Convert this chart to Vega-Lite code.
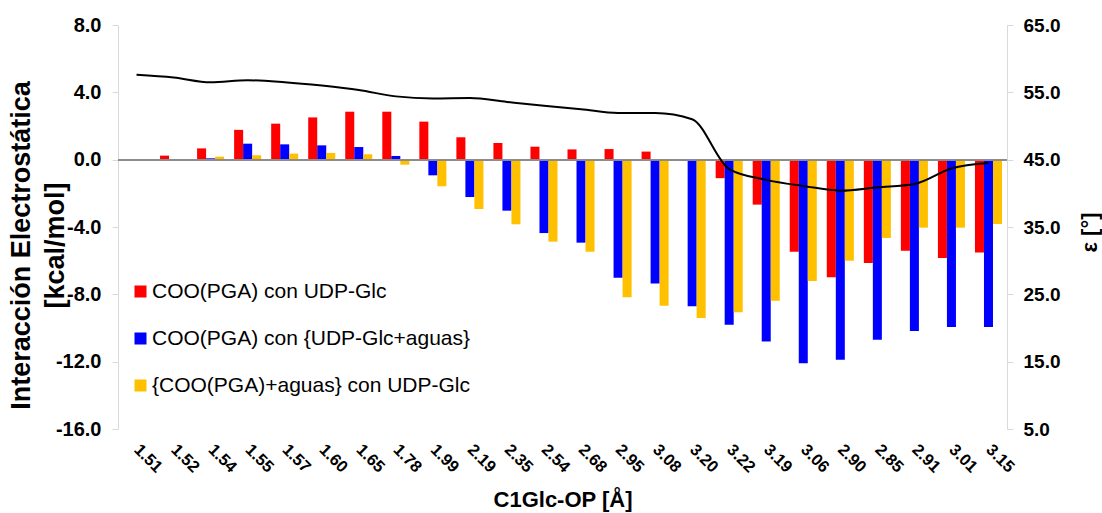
{
  "$schema": "https://vega.github.io/schema/vega-lite/v6.json",
  "width": 889,
  "height": 404,
  "autosize": {"type": "none"},
  "padding": {"left": 118, "top": 25, "right": 95, "bottom": 84},
  "background": "white",
  "config": {
    "view": {"stroke": null},
    "font": "Liberation Sans",
    "axis": {"labelFont": "Liberation Sans", "titleFont": "Liberation Sans", "labelColor": "#000", "titleColor": "#000", "grid": false}
  },
  "datasets": {
    "bars": [
      {"d": "1.51", "s": "COO(PGA) con UDP-Glc", "v": 0},
      {"d": "1.51", "s": "COO(PGA) con {UDP-Glc+aguas}", "v": 0},
      {"d": "1.51", "s": "{COO(PGA)+aguas} con UDP-Glc", "v": 0},
      {"d": "1.52", "s": "COO(PGA) con UDP-Glc", "v": 0.24},
      {"d": "1.52", "s": "COO(PGA) con {UDP-Glc+aguas}", "v": -0.03},
      {"d": "1.52", "s": "{COO(PGA)+aguas} con UDP-Glc", "v": 0.03},
      {"d": "1.54", "s": "COO(PGA) con UDP-Glc", "v": 0.67},
      {"d": "1.54", "s": "COO(PGA) con {UDP-Glc+aguas}", "v": 0.08},
      {"d": "1.54", "s": "{COO(PGA)+aguas} con UDP-Glc", "v": 0.18},
      {"d": "1.55", "s": "COO(PGA) con UDP-Glc", "v": 1.77},
      {"d": "1.55", "s": "COO(PGA) con {UDP-Glc+aguas}", "v": 0.95},
      {"d": "1.55", "s": "{COO(PGA)+aguas} con UDP-Glc", "v": 0.26},
      {"d": "1.57", "s": "COO(PGA) con UDP-Glc", "v": 2.14},
      {"d": "1.57", "s": "COO(PGA) con {UDP-Glc+aguas}", "v": 0.91},
      {"d": "1.57", "s": "{COO(PGA)+aguas} con UDP-Glc", "v": 0.36},
      {"d": "1.60", "s": "COO(PGA) con UDP-Glc", "v": 2.51},
      {"d": "1.60", "s": "COO(PGA) con {UDP-Glc+aguas}", "v": 0.85},
      {"d": "1.60", "s": "{COO(PGA)+aguas} con UDP-Glc", "v": 0.4},
      {"d": "1.65", "s": "COO(PGA) con UDP-Glc", "v": 2.85},
      {"d": "1.65", "s": "COO(PGA) con {UDP-Glc+aguas}", "v": 0.75},
      {"d": "1.65", "s": "{COO(PGA)+aguas} con UDP-Glc", "v": 0.32},
      {"d": "1.78", "s": "COO(PGA) con UDP-Glc", "v": 2.85},
      {"d": "1.78", "s": "COO(PGA) con {UDP-Glc+aguas}", "v": 0.22},
      {"d": "1.78", "s": "{COO(PGA)+aguas} con UDP-Glc", "v": -0.3},
      {"d": "1.99", "s": "COO(PGA) con UDP-Glc", "v": 2.26},
      {"d": "1.99", "s": "COO(PGA) con {UDP-Glc+aguas}", "v": -0.93},
      {"d": "1.99", "s": "{COO(PGA)+aguas} con UDP-Glc", "v": -1.58},
      {"d": "2.19", "s": "COO(PGA) con UDP-Glc", "v": 1.33},
      {"d": "2.19", "s": "COO(PGA) con {UDP-Glc+aguas}", "v": -2.22},
      {"d": "2.19", "s": "{COO(PGA)+aguas} con UDP-Glc", "v": -2.93},
      {"d": "2.35", "s": "COO(PGA) con UDP-Glc", "v": 0.99},
      {"d": "2.35", "s": "COO(PGA) con {UDP-Glc+aguas}", "v": -3.03},
      {"d": "2.35", "s": "{COO(PGA)+aguas} con UDP-Glc", "v": -3.84},
      {"d": "2.54", "s": "COO(PGA) con UDP-Glc", "v": 0.77},
      {"d": "2.54", "s": "COO(PGA) con {UDP-Glc+aguas}", "v": -4.36},
      {"d": "2.54", "s": "{COO(PGA)+aguas} con UDP-Glc", "v": -4.87},
      {"d": "2.68", "s": "COO(PGA) con UDP-Glc", "v": 0.61},
      {"d": "2.68", "s": "COO(PGA) con {UDP-Glc+aguas}", "v": -4.93},
      {"d": "2.68", "s": "{COO(PGA)+aguas} con UDP-Glc", "v": -5.47},
      {"d": "2.95", "s": "COO(PGA) con UDP-Glc", "v": 0.63},
      {"d": "2.95", "s": "COO(PGA) con {UDP-Glc+aguas}", "v": -7.01},
      {"d": "2.95", "s": "{COO(PGA)+aguas} con UDP-Glc", "v": -8.18},
      {"d": "3.08", "s": "COO(PGA) con UDP-Glc", "v": 0.48},
      {"d": "3.08", "s": "COO(PGA) con {UDP-Glc+aguas}", "v": -7.35},
      {"d": "3.08", "s": "{COO(PGA)+aguas} con UDP-Glc", "v": -8.68},
      {"d": "3.20", "s": "COO(PGA) con UDP-Glc", "v": -0.05},
      {"d": "3.20", "s": "COO(PGA) con {UDP-Glc+aguas}", "v": -8.71},
      {"d": "3.20", "s": "{COO(PGA)+aguas} con UDP-Glc", "v": -9.41},
      {"d": "3.22", "s": "COO(PGA) con UDP-Glc", "v": -1.1},
      {"d": "3.22", "s": "COO(PGA) con {UDP-Glc+aguas}", "v": -9.8},
      {"d": "3.22", "s": "{COO(PGA)+aguas} con UDP-Glc", "v": -9.07},
      {"d": "3.19", "s": "COO(PGA) con UDP-Glc", "v": -2.67},
      {"d": "3.19", "s": "COO(PGA) con {UDP-Glc+aguas}", "v": -10.8},
      {"d": "3.19", "s": "{COO(PGA)+aguas} con UDP-Glc", "v": -8.38},
      {"d": "3.06", "s": "COO(PGA) con UDP-Glc", "v": -5.47},
      {"d": "3.06", "s": "COO(PGA) con {UDP-Glc+aguas}", "v": -12.1},
      {"d": "3.06", "s": "{COO(PGA)+aguas} con UDP-Glc", "v": -7.21},
      {"d": "2.90", "s": "COO(PGA) con UDP-Glc", "v": -6.99},
      {"d": "2.90", "s": "COO(PGA) con {UDP-Glc+aguas}", "v": -11.88},
      {"d": "2.90", "s": "{COO(PGA)+aguas} con UDP-Glc", "v": -6.0},
      {"d": "2.85", "s": "COO(PGA) con UDP-Glc", "v": -6.14},
      {"d": "2.85", "s": "COO(PGA) con {UDP-Glc+aguas}", "v": -10.7},
      {"d": "2.85", "s": "{COO(PGA)+aguas} con UDP-Glc", "v": -4.65},
      {"d": "2.91", "s": "COO(PGA) con UDP-Glc", "v": -5.41},
      {"d": "2.91", "s": "COO(PGA) con {UDP-Glc+aguas}", "v": -10.18},
      {"d": "2.91", "s": "{COO(PGA)+aguas} con UDP-Glc", "v": -4.04},
      {"d": "3.01", "s": "COO(PGA) con UDP-Glc", "v": -5.84},
      {"d": "3.01", "s": "COO(PGA) con {UDP-Glc+aguas}", "v": -9.94},
      {"d": "3.01", "s": "{COO(PGA)+aguas} con UDP-Glc", "v": -4.04},
      {"d": "3.15", "s": "COO(PGA) con UDP-Glc", "v": -5.51},
      {"d": "3.15", "s": "COO(PGA) con {UDP-Glc+aguas}", "v": -9.94},
      {"d": "3.15", "s": "{COO(PGA)+aguas} con UDP-Glc", "v": -3.82}
    ],
    "eps": [
      {"d": "1.51", "e": 57.6},
      {"d": "1.52", "e": 57.2},
      {"d": "1.54", "e": 56.5},
      {"d": "1.55", "e": 56.8},
      {"d": "1.57", "e": 56.5},
      {"d": "1.60", "e": 56.0},
      {"d": "1.65", "e": 55.35},
      {"d": "1.78", "e": 54.4},
      {"d": "1.99", "e": 54.1},
      {"d": "2.19", "e": 54.16},
      {"d": "2.35", "e": 53.57},
      {"d": "2.54", "e": 53.0},
      {"d": "2.68", "e": 52.5},
      {"d": "2.95", "e": 51.93},
      {"d": "3.08", "e": 51.93},
      {"d": "3.20", "e": 51.0},
      {"d": "3.22", "e": 43.6},
      {"d": "3.19", "e": 42.0},
      {"d": "3.06", "e": 41.1},
      {"d": "2.90", "e": 40.4},
      {"d": "2.85", "e": 40.9},
      {"d": "2.91", "e": 41.4},
      {"d": "3.01", "e": 43.7},
      {"d": "3.15", "e": 44.5}
    ]
  },
  "encoding": {
    "x": {
      "field": "d", "type": "nominal", "sort": null,
      "scale": {"paddingInner": 0.27, "paddingOuter": 0.135},
      "axis": {
        "title": "C1Glc-OP [Å]", "titleFontSize": 22, "titleFontWeight": "bold", "titlePadding": 14,
        "labelAngle": 45, "labelAlign": "left", "labelBaseline": "top", "labelFontSize": 16.5, "labelFontWeight": "bold",
        "labelPadding": 12, "labelOffset": 6, "domain": false, "ticks": false
      }
    }
  },
  "layer": [
    {
      "data": {"name": "bars"},
      "layer": [
        {
          "mark": {"type": "bar"},
          "encoding": {
            "xOffset": {"field": "s", "type": "nominal", "sort": null},
            "y": {
              "field": "v", "type": "quantitative",
              "scale": {"domain": [-16, 8], "nice": false, "zero": false},
              "axis": {
                "title": ["Interacción Electrostática", "[kcal/mol]"], "titleFontSize": 27, "titleFontWeight": "bold", "titlePadding": -14, "titleLineHeight": 34, "titleY": 220,
                "values": [-16, -12, -8, -4, 0, 4, 8], "format": ".1f", "labelExpr": "replace(datum.label, '−', '-')",
                "labelFontSize": 20, "labelFontWeight": "bold",
                "domainColor": "#d9d9d9", "tickColor": "#d9d9d9", "tickSize": 6, "labelPadding": 11
              }
            },
            "color": {
              "field": "s", "type": "nominal", "sort": null,
              "scale": {"domain": ["COO(PGA) con UDP-Glc", "COO(PGA) con {UDP-Glc+aguas}", "{COO(PGA)+aguas} con UDP-Glc"], "range": ["#ff0000", "#0000ff", "#ffc000"]},
              "legend": {
                "title": null, "orient": "none", "legendX": 12, "legendY": 256,
                "symbolType": "square", "symbolSize": 144, "symbolStrokeWidth": 0, "labelLimit": 0,
                "labelFontSize": 21, "labelFont": "Liberation Sans", "labelColor": "#000", "rowPadding": 25, "labelOffset": 1
              }
            }
          }
        },
        {
          "mark": {"type": "rule", "color": "#8c8c8c", "strokeWidth": 1},
          "encoding": {"x": null, "y": {"datum": 0, "type": "quantitative"}}
        }
      ]
    },
    {
      "data": {"name": "eps"},
      "mark": {"type": "line", "color": "#000000", "strokeWidth": 2, "interpolate": "monotone"},
      "encoding": {
        "y": {
          "field": "e", "type": "quantitative",
          "scale": {"domain": [5, 65], "nice": false, "zero": false},
          "axis": {
            "orient": "right", "title": "ε [°]", "titleAngle": -90, "titleFontSize": 22, "titleFontWeight": "bold", "titlePadding": 42, "titleY": 207,
            "values": [5, 15, 25, 35, 45, 55, 65], "format": ".1f", "labelFontSize": 19, "labelFontWeight": "bold",
            "domainColor": "#d9d9d9", "tickColor": "#d9d9d9", "tickSize": 6, "labelPadding": 10
          }
        }
      }
    }
  ],
  "resolve": {"scale": {"y": "independent"}}
}
